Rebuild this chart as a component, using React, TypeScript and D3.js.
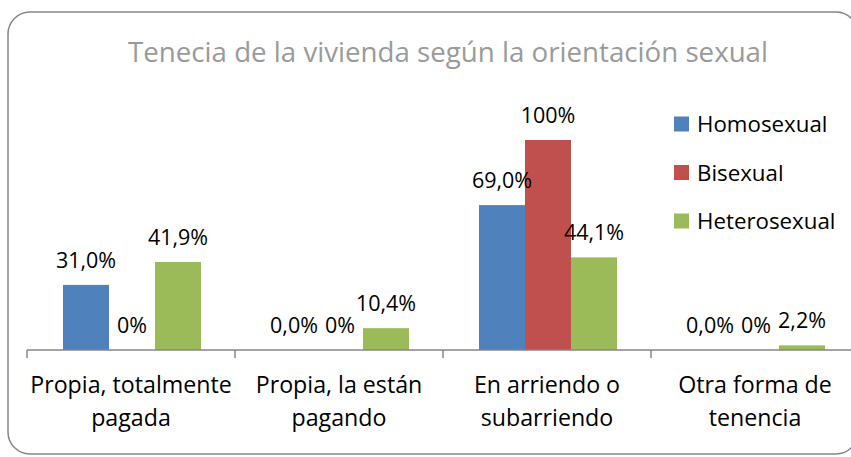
import React from "react";
import * as d3 from "d3";

const categories = [
  ["Propia, totalmente", "pagada"],
  ["Propia, la están", "pagando"],
  ["En arriendo o", "subarriendo"],
  ["Otra forma de", "tenencia"],
];
const seriesNames = ["Homosexual", "Bisexual", "Heterosexual"];
const homosexual = [31.0, 0.0, 69.0, 0.0];
const bisexual = [0, 0, 100, 0];
const heterosexual = [41.9, 10.4, 44.1, 2.2];
const seriesDecimals = [1, 0, 1];
const colors = ["#4F81BD", "#C0504D", "#9BBB59"];
const title = "Tenecia de la vivienda según la orientación sexual";

const W = 851;
const H = 457;
const FONT = "'Open Sans', sans-serif";

const locale = d3.formatLocale({ decimal: ",", thousands: ".", grouping: [3], currency: ["", ""] });

export default function App() {
  const series = [homosexual, bisexual, heterosexual];
  const idx = categories.map((_, i) => String(i));
  const x0 = d3.scaleBand().domain(idx).range([27, 859]).padding(0);
  const x1 = d3.scaleBand().domain(seriesNames).range([36, 174]).padding(0);
  const y = d3.scaleLinear().domain([0, 100]).range([350, 140]);
  const legendY = d3.scalePoint().domain(seriesNames).range([124, 221]);

  return (
    <svg width={W} height={H} style={{ position: "absolute", left: 0, top: 0 }}>
      <rect x={8} y={12} width={850} height={442} rx={22} ry={22} fill="#fff" stroke="#868686" strokeWidth={1.5} />
      <text x={448} y={62} textAnchor="middle" fontFamily={FONT} fontSize={27.7} fill="#9a9a9a">
        {title}
      </text>
      {series.map((vals, s) =>
        vals.map((v, i) => {
          const bx = x0(String(i))! + x1(seriesNames[s])!;
          return (
            <rect key={`b${s}-${i}`} x={bx} y={y(v)} width={x1.bandwidth()} height={y(0) - y(v)} fill={colors[s]} />
          );
        })
      )}
      <line x1={27} x2={860} y1={y(0)} y2={y(0)} stroke="#868686" strokeWidth={1.5} />
      {d3.range(categories.length + 1).map((i) => {
        const tx = 27 + i * x0.bandwidth();
        return <line key={`t${i}`} x1={tx} x2={tx} y1={y(0)} y2={y(0) + 8} stroke="#868686" strokeWidth={1.5} />;
      })}
      {series.map((vals, s) =>
        vals.map((v, i) => {
          const cx = x0(String(i))! + x1(seriesNames[s])! + x1.bandwidth() / 2;
          const label = locale.format(`.${seriesDecimals[s]}f`)(v) + "%";
          return (
            <text key={`l${s}-${i}`} x={cx} y={y(v) - 17} textAnchor="middle" fontFamily={FONT} fontSize={21.5} fill="#000">
              {label}
            </text>
          );
        })
      )}
      {categories.map((lines, i) => {
        const cx = x0(String(i))! + x0.bandwidth() / 2;
        return (
          <text key={`c${i}`} textAnchor="middle" fontFamily={FONT} fontSize={23.2} fill="#000">
            {lines.map((ln, k) => (
              <tspan key={k} x={cx} y={393 + k * 33}>
                {ln}
              </tspan>
            ))}
          </text>
        );
      })}
      {seriesNames.map((n, s) => (
        <g key={`lg${s}`}>
          <rect x={674} y={legendY(n)! - 7.5} width={15} height={15} fill={colors[s]} />
          <text x={697} y={legendY(n)! + 8} fontFamily={FONT} fontSize={22.3} fill="#000">
            {n}
          </text>
        </g>
      ))}
    </svg>
  );
}
